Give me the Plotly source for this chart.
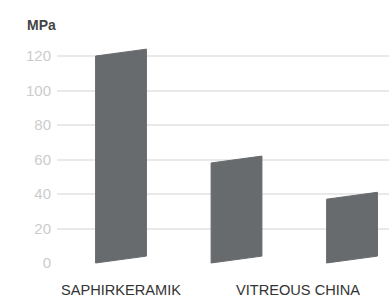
import plotly.graph_objects as go

categories = ["A", "B", "C"]
values = [120, 58, 37]
tick_values = [0, 20, 40, 60, 80, 100, 120]
tick_labels = ["0", "20", "40", "60", "80", "100", "120"]
category_labels = ["SAPHIRKERAMIK", "VITREOUS CHINA"]
unit_label = "MPa"

BAR_COLOR = "#686b6e"
FONT = "Liberation Sans"
half_w = 0.22
skew = 4.0

fig = go.Figure()
for i, v in enumerate(values):
    xs = [i - half_w, i + half_w, i + half_w, i - half_w, i - half_w]
    ys = [0, skew, v + skew, v, 0]
    fig.add_trace(go.Scatter(
        x=xs, y=ys, mode="lines", fill="toself",
        fillcolor=BAR_COLOR, line=dict(color=BAR_COLOR, width=1),
        hoverinfo="skip", showlegend=False, name=categories[i]))

label_pos = [0.0, 1.53]
annotations = [dict(text="<b>" + unit_label + "</b>", xref="paper", yref="paper",
                    x=-0.048, y=1.0, xanchor="center", yanchor="middle",
                    showarrow=False, yshift=15,
                    font=dict(family=FONT, size=14, color="#444"))]
for pos, lab in zip(label_pos, category_labels):
    annotations.append(dict(text=lab, xref="x", yref="paper", x=pos, y=0,
                            xanchor="center", yanchor="middle", yshift=-14.5,
                            showarrow=False,
                            font=dict(family=FONT, size=14.6, color="#333")))

fig.update_layout(
    width=389, height=298,
    margin=dict(l=57, r=0, t=40, b=23, autoexpand=False),
    paper_bgcolor="white", plot_bgcolor="white",
    font=dict(family=FONT, size=15, color="#333"),
    xaxis=dict(range=[-0.554, 2.32], showgrid=False, zeroline=False,
               showticklabels=False, ticks="", showline=False,
               automargin=False),
    yaxis=dict(range=[-6.96, 129.3], tickmode="array", tickvals=tick_values,
               ticktext=tick_labels, showgrid=True, gridcolor="#e9e9e9",
               gridwidth=1.5, zeroline=True, zerolinecolor="rgba(0,0,0,0)",
               showline=False, ticks="",
               tickfont=dict(family=FONT, size=15, color="#cccccc"),
               ticklabelstandoff=5, automargin=False),
    annotations=annotations,
)

fig.write_html("out.html", config={"displayModeBar": False})
with open("out.html", "r", encoding="utf-8") as f:
    html = f.read()
html = html.replace("<body>", '<body style="margin:0;padding:0;overflow:hidden">', 1)
with open("out.html", "w", encoding="utf-8") as f:
    f.write(html)
